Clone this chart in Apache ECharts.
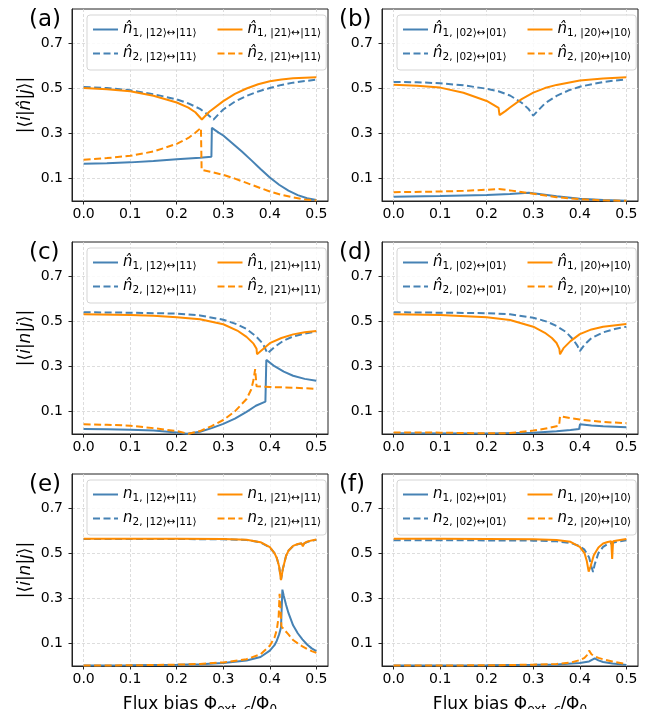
<!DOCTYPE html>
<html>
<head>
<meta charset="utf-8">
<script src="https://cdn.jsdelivr.net/npm/echarts@6/dist/echarts.min.js"></script>
<style>
  html, body { margin: 0; padding: 0; background: #fff; }
  #chart { width: 651px; height: 709px; }
</style>
</head>
<body>
<div id="chart"></div>
<script>
// Axis ticks and ranges shared by all six panels
const xTicks = [0, 0.1, 0.2, 0.3, 0.4, 0.5];
const yTicks = [0.1, 0.3, 0.5, 0.7];
const xRange = [-0.025, 0.525];
const yRange = [0, 0.85];

// (a) |<i|n^|j>|, |12>,|21> <-> |11>
const a_n1_12 = [[0,.165],[.05,.167],[.1,.171],[.15,.177],[.2,.185],[.25,.192],[.2745,.196],[.2755,.324],[.29,.303],[.3,.29],[.32,.255],[.34,.219],[.36,.181],[.38,.142],[.4,.104],[.42,.072],[.44,.046],[.46,.026],[.48,.012],[.5,.004]];
const a_n2_12 = [[0,.505],[.05,.5],[.1,.49],[.15,.473],[.2,.45],[.225,.432],[.25,.408],[.265,.385],[.279,.36],[.29,.385],[.3,.405],[.325,.44],[.35,.465],[.375,.485],[.4,.5],[.425,.514],[.45,.524],[.475,.531],[.5,.537]];
const a_n1_21 = [[0,.5],[.05,.495],[.1,.486],[.15,.466],[.2,.436],[.225,.413],[.24,.393],[.254,.361],[.27,.395],[.3,.442],[.325,.474],[.35,.498],[.375,.517],[.4,.53],[.425,.538],[.45,.543],[.475,.546],[.5,.548]];
const a_n2_21 = [[0,.183],[.05,.19],[.1,.2],[.15,.219],[.2,.253],[.225,.279],[.24,.302],[.252,.324],[.2535,.138],[.275,.128],[.3,.116],[.325,.099],[.35,.08],[.375,.061],[.4,.042],[.425,.027],[.45,.016],[.475,.007],[.5,.003]];

// (b) |02> <-> |01>, |20> <-> |10>
const b_n1_02 = [[0,.019],[.1,.022],[.2,.027],[.25,.031],[.29,.037],[.3,.034],[.35,.021],[.4,.01],[.45,.004],[.5,.001]];
const b_n2_02 = [[0,.527],[.05,.526],[.1,.521],[.15,.512],[.2,.497],[.225,.486],[.25,.467],[.275,.435],[.29,.407],[.3,.378],[.31,.4],[.325,.432],[.35,.465],[.375,.489],[.4,.506],[.45,.527],[.5,.539]];
const b_n1_20 = [[0,.515],[.05,.51],[.1,.502],[.15,.479],[.2,.443],[.2255,.412],[.2275,.38],[.24,.398],[.25,.414],[.275,.451],[.3,.48],[.325,.5],[.35,.514],[.4,.533],[.45,.542],[.5,.548]];
const b_n2_20 = [[0,.039],[.1,.042],[.15,.045],[.2,.05],[.226,.053],[.25,.047],[.3,.032],[.35,.017],[.4,.008],[.45,.003],[.5,.001]];

// (c) |<i|n|j>|, |12>,|21> <-> |11>
const c_n1_12 = [[0,.022],[.05,.021],[.1,.019],[.15,.015],[.2,.007],[.222,.001],[.25,.01],[.275,.026],[.3,.045],[.325,.068],[.35,.098],[.37,.125],[.3905,.143],[.3925,.328],[.41,.3],[.43,.276],[.45,.258],[.475,.244],[.5,.236]];
const c_n2_12 = [[0,.539],[.1,.537],[.2,.533],[.25,.525],[.3,.506],[.33,.485],[.35,.465],[.37,.433],[.385,.4],[.395,.357],[.41,.385],[.43,.414],[.45,.432],[.475,.445],[.5,.453]];
const c_n1_21 = [[0,.53],[.1,.527],[.15,.523],[.2,.517],[.25,.508],[.3,.486],[.33,.458],[.35,.43],[.365,.4],[.3715,.377],[.3725,.353],[.385,.375],[.4,.402],[.425,.425],[.45,.441],[.475,.45],[.5,.456]];
const c_n2_21 = [[0,.043],[.05,.041],[.1,.037],[.15,.026],[.2,.013],[.225,.001],[.25,.013],[.275,.035],[.3,.062],[.325,.1],[.35,.155],[.36,.197],[.365,.24],[.3685,.287],[.3715,.211],[.4,.208],[.45,.205],[.5,.2]];

// (d) |02> <-> |01>, |20> <-> |10>
const d_n1_02 = [[0,.003],[.2,.002],[.3,.005],[.35,.012],[.38,.018],[.3985,.022],[.4005,.043],[.425,.038],[.45,.034],[.5,.03]];
const d_n2_02 = [[0,.539],[.1,.537],[.2,.535],[.25,.53],[.3,.515],[.33,.497],[.35,.478],[.37,.452],[.385,.42],[.395,.39],[.4,.367],[.41,.395],[.425,.425],[.45,.45],[.475,.465],[.5,.475]];
const d_n1_20 = [[0,.53],[.1,.527],[.2,.517],[.25,.505],[.3,.475],[.325,.448],[.34,.425],[.35,.403],[.356,.377],[.3575,.353],[.365,.38],[.38,.411],[.4,.442],[.425,.463],[.45,.475],[.5,.487]];
const d_n2_20 = [[0,.007],[.1,.006],[.2,.003],[.25,.004],[.3,.015],[.33,.025],[.3555,.037],[.3575,.079],[.38,.07],[.4,.064],[.45,.053],[.5,.048]];

// (e) |<i|n|j>| without hats
const e_n1_12 = [[0,.002],[.1,.003],[.2,.005],[.25,.008],[.3,.013],[.35,.024],[.38,.04],[.4,.068],[.41,.092],[.415,.112],[.42,.14],[.424,.17],[.427,.338],[.43,.31],[.435,.27],[.44,.235],[.45,.18],[.46,.145],[.47,.118],[.48,.095],[.49,.078],[.5,.066]];
const e_n2_12 = [[0,.562],[.1,.562],[.2,.562],[.3,.561],[.35,.558],[.38,.547],[.4,.525],[.41,.5],[.415,.478],[.42,.441],[.424,.382],[.428,.43],[.435,.488],[.44,.51],[.45,.531],[.46,.539],[.468,.542],[.471,.53],[.474,.543],[.48,.549],[.49,.555],[.5,.559]];
const e_n1_21 = [[0,.563],[.1,.563],[.2,.563],[.3,.562],[.35,.559],[.38,.548],[.4,.526],[.41,.5],[.415,.478],[.42,.44],[.424,.38],[.428,.43],[.435,.488],[.44,.51],[.45,.532],[.46,.54],[.468,.543],[.471,.53],[.474,.544],[.48,.55],[.49,.556],[.5,.56]];
const e_n2_21 = [[0,.002],[.1,.003],[.2,.006],[.25,.009],[.3,.016],[.35,.03],[.38,.052],[.4,.09],[.41,.125],[.415,.16],[.419,.22],[.421,.32],[.423,.25],[.425,.175],[.43,.163],[.44,.14],[.45,.115],[.46,.1],[.47,.087],[.48,.075],[.49,.066],[.5,.058]];

// (f) |02> <-> |01>, |20> <-> |10> without hats
const f_n1_02 = [[0,.002],[.2,.003],[.3,.005],[.35,.007],[.4,.013],[.42,.02],[.432,.034],[.44,.025],[.45,.018],[.47,.011],[.5,.005]];
const f_n2_02 = [[0,.557],[.1,.557],[.2,.556],[.3,.555],[.35,.552],[.38,.545],[.4,.53],[.41,.515],[.42,.48],[.425,.44],[.4285,.416],[.432,.45],[.44,.5],[.45,.527],[.46,.54],[.48,.55],[.5,.557]];
const f_n1_20 = [[0,.563],[.1,.563],[.2,.562],[.3,.561],[.35,.558],[.38,.55],[.4,.527],[.41,.5],[.415,.465],[.419,.418],[.423,.44],[.43,.49],[.44,.525],[.45,.542],[.46,.549],[.4675,.552],[.4695,.474],[.4715,.552],[.48,.556],[.5,.562]];
const f_n2_20 = [[0,.002],[.2,.003],[.3,.006],[.35,.009],[.38,.015],[.4,.026],[.41,.036],[.415,.047],[.42,.068],[.425,.052],[.43,.045],[.44,.036],[.45,.03],[.47,.02],[.5,.009]];

const BLUE = '#4682b4';
const ORANGE = '#ff8c00';
const FONT = 'DejaVu Sans';

const tags = ['(a)', '(b)', '(c)', '(d)', '(e)', '(f)'];
const hats = [true, true, true, true, false, false];
const pairsByCol = [['|12⟩↔|11⟩', '|21⟩↔|11⟩'], ['|02⟩↔|01⟩', '|20⟩↔|10⟩']];
const seriesSets = [
  [a_n1_12, a_n2_12, a_n1_21, a_n2_21],
  [b_n1_02, b_n2_02, b_n1_20, b_n2_20],
  [c_n1_12, c_n2_12, c_n1_21, c_n2_21],
  [d_n1_02, d_n2_02, d_n1_20, d_n2_20],
  [e_n1_12, e_n2_12, e_n1_21, e_n2_21],
  [f_n1_02, f_n2_02, f_n1_20, f_n2_20]
];
const yNames = [
  '{u||⟨}{i|i}{u||}{i|n̂}{u||}{i|j}{u|⟩|}',
  '{u||⟨}{i|i}{u||}{i|n}{u||}{i|j}{u|⟩|}',
  '{u||⟨}{i|i}{u||}{i|n}{u||}{i|j}{u|⟩|}'
];
const xName = '{t|Flux bias Φ}{s|ext, }{si|c}{t|/Φ}{s|0}';

const colLeft = [72, 382];
const rowTop = [9, 242, 474];
const gridW = 256, gridH = 192;

const grids = [], xAxes = [], yAxes = [], series = [], legends = [], titles = [];
const legendText = {};

for (let p = 0; p < 6; p++) {
  const col = p % 2, row = Math.floor(p / 2);
  const left = colLeft[col], top = rowTop[row];
  grids.push({ left: left, top: top, width: gridW, height: gridH, show: true,
    containLabel: false, outerBoundsMode: 'none',
    borderColor: '#222', borderWidth: 1, backgroundColor: 'transparent' });

  xAxes.push({
    type: 'value', gridIndex: p, min: xRange[0], max: xRange[1],
    axisLine: { show: true, onZero: false, lineStyle: { color: '#222', width: 1 } },
    axisTick: { show: true, length: 3.5, customValues: xTicks, lineStyle: { color: '#222' } },
    axisLabel: { customValues: xTicks, margin: 6, color: '#000', fontSize: 14, fontFamily: FONT,
      formatter: v => v.toFixed(1) },
    splitLine: { show: true, lineStyle: { color: '#d4d4d4', type: [3, 2], width: 0.8 } },
    name: row === 2 ? xName : '', nameLocation: 'middle', nameGap: 28,
    nameTextStyle: { color: '#000', rich: {
      t: { fontSize: 17, fontFamily: FONT, color: '#000', lineHeight: 22 },
      s: { fontSize: 12, fontFamily: FONT, color: '#000', lineHeight: 12, verticalAlign: 'bottom' },
      si: { fontSize: 12, fontFamily: FONT, fontStyle: 'italic', color: '#000', lineHeight: 12, verticalAlign: 'bottom' }
    } }
  });

  yAxes.push({
    type: 'value', gridIndex: p, min: yRange[0], max: yRange[1],
    axisLine: { show: true, onZero: false, lineStyle: { color: '#222', width: 1 } },
    axisTick: { show: true, length: 3.5, customValues: yTicks, lineStyle: { color: '#222' } },
    axisLabel: { customValues: yTicks, margin: 9, color: '#000', fontSize: 14, fontFamily: FONT,
      formatter: v => v.toFixed(1) },
    splitLine: { show: true, lineStyle: { color: '#d4d4d4', type: [3, 2], width: 0.8 } },
    name: col === 0 ? yNames[row] : '', nameLocation: 'middle', nameGap: 38,
    nameTextStyle: { color: '#000', rich: {
      u: { fontSize: 17, fontFamily: FONT, color: '#000' },
      i: { fontSize: 17, fontFamily: FONT, fontStyle: 'italic', color: '#000' }
    } }
  });

  const pr = pairsByCol[col];
  const sym = hats[p] ? 'n̂' : 'n';
  const entries = [
    { idx: 1, pair: pr[0], color: BLUE, dash: false, sub: 's1' },
    { idx: 2, pair: pr[0], color: BLUE, dash: true, sub: 's1' },
    { idx: 1, pair: pr[1], color: ORANGE, dash: false, sub: 's2' },
    { idx: 2, pair: pr[1], color: ORANGE, dash: true, sub: 's2' }
  ];
  const names = [];
  entries.forEach((e, k) => {
    const name = tags[p] + ' ' + sym + e.idx + ' ' + e.pair;
    legendText[name] = '{n|' + sym + '}{' + e.sub + '|' + e.idx + ', ' + e.pair + '}';
    names.push(name);
    series.push({
      type: 'line', name: name, xAxisIndex: p, yAxisIndex: p,
      data: seriesSets[p][k], symbol: 'none', showSymbol: false,
      lineStyle: { color: e.color, width: 2, type: e.dash ? [7, 3.5] : 'solid' },
      itemStyle: { color: e.color }, emphasis: { disabled: true }, z: 3 + k
    });
  });

  legends.push({
    left: left + 15, top: top + 6, width: 240, orient: 'horizontal',
    padding: [7, 5, 7, 5], itemGap: 7, itemWidth: 25, itemHeight: 12,
    itemStyle: { opacity: 0 },
    backgroundColor: 'rgba(255,255,255,0.85)', borderColor: '#d5d5d5', borderWidth: 1, borderRadius: 3,
    selectedMode: false,
    data: [names[0], names[2], names[1], names[3]],
    formatter: n => legendText[n],
    textStyle: { color: '#000', rich: {
      n: { fontSize: 15, fontFamily: FONT, fontStyle: 'italic', color: '#000', lineHeight: 19 },
      s1: { fontSize: 10.5, fontFamily: FONT, color: '#000', lineHeight: 11, verticalAlign: 'bottom', width: 77 },
      s2: { fontSize: 10.5, fontFamily: FONT, color: '#000', lineHeight: 11, verticalAlign: 'bottom' }
    } }
  });

  titles.push({
    text: tags[p], left: left - 43, top: top, padding: 0,
    textStyle: { fontSize: 23, fontWeight: 'normal', color: '#000', fontFamily: FONT }
  });
}

const chart = echarts.init(document.getElementById('chart'), null, { renderer: 'canvas' });
chart.setOption({
  backgroundColor: '#fff',
  animation: false,
  title: titles,
  grid: grids,
  xAxis: xAxes,
  yAxis: yAxes,
  legend: legends,
  series: series
});
</script>
</body>
</html>
